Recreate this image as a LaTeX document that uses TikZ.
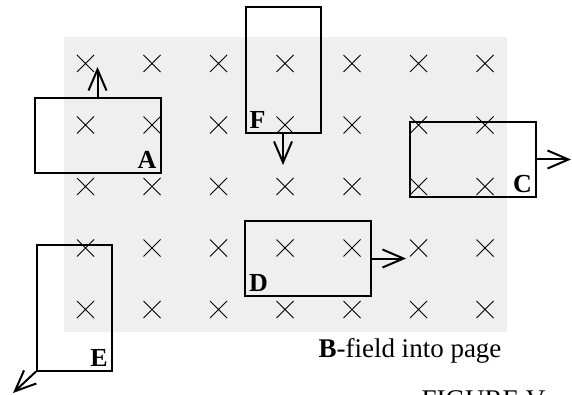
\documentclass[tikz,border=0pt]{standalone}
\usepackage{fontspec}
\setmainfont{Liberation Serif}
\usetikzlibrary{arrows.meta}
\definecolor{fieldgray}{RGB}{239,239,239}

\begin{document}
\begin{tikzpicture}[x=1pt,y=-1pt,
  loop/.style={shape=rectangle, draw, line width=2pt, inner sep=0pt},
  tag/.style={font=\fontsize{26}{30}\selectfont\bfseries, inner sep=5pt},
  motion/.style={-{Straight Barb[length=21pt,width=18pt]}, line width=2pt},
  cross/.style={line width=0.9pt}]
\useasboundingbox (0,0) rectangle (572,395);

% field region
\fill [fieldgray] (64,37) rectangle (507,332);
\foreach \cx in {85.5,152,218.5,285,352,418.5,485}
  \foreach \cy in {63.5,125,186.5,248,309.5}
    \draw [cross] (\cx-8.5,\cy-8.5) -- (\cx+8.5,\cy+8.5) (\cx-8.5,\cy+8.5) -- (\cx+8.5,\cy-8.5);

% loops
\path (97.5,135.5) node (A) [loop, minimum width=126pt, minimum height=75pt] {};
\path (283,70) node (F) [loop, minimum width=75pt, minimum height=126pt] {};
\path (473,159.5) node (C) [loop, minimum width=126pt, minimum height=75pt] {};
\path (308,258.5) node (D) [loop, minimum width=126pt, minimum height=75pt] {};
\path (74.5,307.5) node (E) [loop, minimum width=75pt, minimum height=126pt] {};

\path (A.south east) node [tag, anchor=south east] {A};
\path (F.south west) node [tag, anchor=south west] {F};
\path (C.south east) node [tag, anchor=south east] {C};
\path (D.south west) node [tag, anchor=south west] {D};
\path (E.south east) node [tag, anchor=south east] {E};

% velocities
\coordinate (Av) at (97.5,67);
\coordinate (Fv) at (283,165);
\coordinate (Cv) at (571,159.5);
\coordinate (Dv) at (406,258.5);
\coordinate (Ev) at (13,393);

\draw [motion] (A.north) -- (Av);
\draw [motion] (F.south) -- (Fv);
\draw [motion] (C.east) -- (Cv);
\draw [motion] (D.east) -- (Dv);
\draw [motion] (E.south west) -- (Ev);

\path (410,357) node (note) [anchor=base, font=\fontsize{27}{30}\selectfont] {\textbf{B}-field into page};
\path (418,408) node (caption) [anchor=base west, font=\fontsize{27}{30}\selectfont] {FIGURE V};

\end{tikzpicture}
\end{document}
